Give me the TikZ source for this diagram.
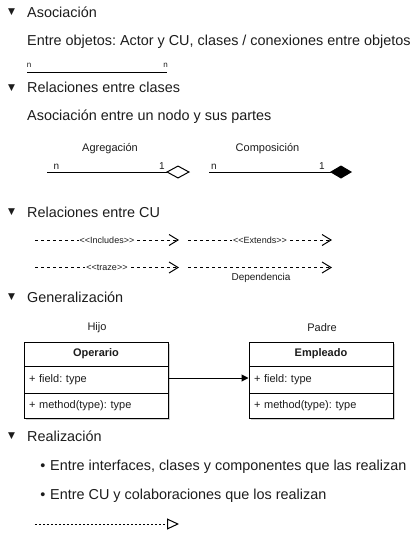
\documentclass[tikz,border=0pt]{standalone}
\usepackage{fontspec}
\setmainfont{Liberation Sans}
\newfontfamily\symfont{DejaVu Sans}
\usetikzlibrary{arrows.meta,shadows}
\definecolor{ink}{RGB}{28,28,28}
\newcommand\dlt{<\kern0pt<}
\newcommand\dgt{>\kern0pt>}
\frenchspacing
\begin{document}
\frenchspacing
\begin{tikzpicture}[x=1pt,y=-1pt,
  txt/.style={anchor=base west, inner sep=0pt, text=ink, font=\fontsize{14.4}{16}\selectfont},
  tri/.style={inner sep=0pt, text=ink, font=\symfont\fontsize{9}{9}\selectfont},
  bul/.style={inner sep=0pt, text=ink, font=\fontsize{14.4}{16}\selectfont},
  small/.style={inner sep=0pt, text=ink, font=\fontsize{11}{13}\selectfont},
  mult/.style={anchor=base, inner sep=0pt, text=ink, font=\fontsize{10}{12}\selectfont},
  tiny/.style={anchor=base, inner sep=0pt, text=ink, font=\fontsize{8}{9}\selectfont},
  elbl/.style={inner xsep=1pt, inner ysep=0pt, fill=white, text=ink, font=\fontsize{9}{10}\selectfont},
  ln/.style={line width=1pt, draw=black},
  dep/.style={line width=1pt, draw=black, dash pattern=on 3pt off 3pt, -{Straight Barb[length=9pt,width=11pt,line width=1pt]}},
  real/.style={line width=1pt, draw=black, dash pattern=on 2pt off 2pt, -{Triangle[open,length=12pt,width=11pt,line width=1pt]}},
  cls/.style={draw=black, line width=1pt, fill=white, minimum width=144pt, inner sep=0pt, text=ink,
    font=\fontsize{11}{13}\selectfont, drop shadow={shadow xshift=2pt, shadow yshift=-2pt, fill=black!18, opacity=1}},
  row/.style={cls, text width=134pt, align=left}
]
\useasboundingbox (0,0) rectangle (419,544);

% headings
\node[tri] (t1) at (11.5,12.5) {▼};
\node[txt] (h1) at (27,17) {Asociación};
\node[txt] (p1) at (27,45.5) {Entre objetos: Actor y CU, clases / conexiones entre objetos};
\coordinate (a1) at (27,72);
\coordinate (a2) at (167,72);
\draw[ln] (a1) -- (a2);
\node[tiny] (an1) at (29,67.5) {n};
\node[tiny] (an2) at (165.5,67.5) {n};

\node[tri] (t2) at (11.5,88) {▼};
\node[txt] (h2) at (27,92.5) {Relaciones entre clases};
\node[txt] (p2) at (27,120.5) {Asociación entre un nodo y sus partes};

\node[small] (ag) at (110,149) {Agregación};
\coordinate (g1) at (47,172);
\coordinate (g2) at (190,172);
\draw[ln, -{Turned Square[open,length=24pt,width=13pt,line width=1pt]}] (g1) -- (g2);
\node[mult] (gn) at (56.5,169) {n};
\node[mult] (g1l) at (162,169) {1};

\node[small] (co) at (267.5,149) {Composición};
\coordinate (c1) at (209,172);
\coordinate (c2) at (352,172);
\draw[ln, -{Turned Square[length=22pt,width=13pt,line width=1pt]}] (c1) -- (c2);
\node[mult] (cn) at (214,169) {n};
\node[mult] (c1l) at (322,169) {1};

\node[tri] (t3) at (11.5,212.5) {▼};
\node[txt] (h3) at (27,217) {Relaciones entre CU};

\coordinate (i1) at (35,240);
\coordinate (i2) at (179,240);
\draw[dep] (i1) -- node[elbl] (il) {\dlt Includes\dgt} (i2);
\coordinate (e1) at (188,240);
\coordinate (e2) at (332,240);
\draw[dep] (e1) -- node[elbl] (el) {\dlt Extends\dgt} (e2);
\coordinate (r1) at (35,267.5);
\coordinate (r2) at (179,267.5);
\draw[dep] (r1) -- node[elbl] (rl) {\dlt traze\dgt} (r2);
\coordinate (d1) at (188,267.5);
\coordinate (d2) at (332,267.5);
\draw[dep] (d1) -- (d2);
\node[inner sep=0pt, text=ink, font=\fontsize{10}{12}\selectfont] (dl) at (261,277.5) {Dependencia};

\node[tri] (t4) at (11.5,297) {▼};
\node[txt] (h4) at (27,302) {Generalización};

\node[small] (hijo) at (97,328) {Hijo};
\node[small] (padre) at (322,328) {Padre};

\node[cls, minimum height=24pt, font=\bfseries\fontsize{11}{13}\selectfont] (op) at (96,354) {Operario};
\node[row, minimum height=27pt] (opf) at (96,379.5) {+ field: type};
\node[row, minimum height=25pt] (opm) at (96,405.5) {+ method(type): type};

\node[cls, minimum height=24pt, font=\bfseries\fontsize{11}{13}\selectfont] (em) at (321,354) {Empleado};
\node[row, minimum height=27pt] (emf) at (321,379.5) {+ field: type};
\node[row, minimum height=25pt] (emm) at (321,405.5) {+ method(type): type};

\draw[ln, -{Triangle[length=7pt,width=7pt]}] (opf.east |- 0,378) -- (emf.west |- 0,378);

\node[tri] (t5) at (11.5,436.5) {▼};
\node[txt] (h5) at (27,441) {Realización};
\node[bul, anchor=base] (b1) at (43,470) {•};
\node[txt] (l1) at (50,470) {Entre interfaces, clases y componentes que las realizan};
\node[bul, anchor=base] (b2) at (43,499) {•};
\node[txt] (l2) at (50,499) {Entre CU y colaboraciones que los realizan};

\coordinate (z1) at (35,524);
\coordinate (z2) at (179,524);
\draw[real] (z1) -- (z2);
\end{tikzpicture}
\end{document}
